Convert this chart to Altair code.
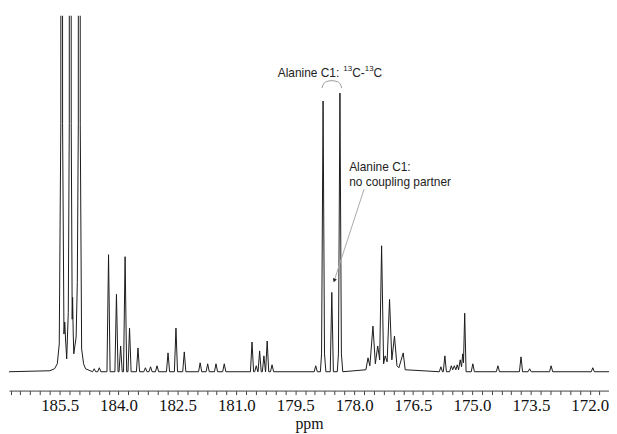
import altair as alt
import pandas as pd

# x-range of the spectrum (ppm, decreasing to the right)
ppm_left = 186.79
ppm_right = 171.51

# main multiplet near 185.2 ppm: (ppm, intensity); apexes run far off scale
cluster_185 = [
    (185.75, 1), (185.63, 3), (185.56, 8), (185.51, 28), (185.47, 250),
    (185.45, 3000), (185.425, 250), (185.39, 38), (185.37, 50), (185.35, 33),
    (185.32, 13), (185.28, 60), (185.255, 250), (185.23, 3000), (185.205, 250),
    (185.18, 53), (185.17, 75), (185.155, 40), (185.14, 18), (185.08, 35),
    (185.05, 90), (185.025, 250), (185.00, 3000), (184.975, 250), (184.94, 23),
    (184.89, 8), (184.84, 3),
]

# Alanine C1 13C-13C doublet
cluster_178 = [
    (178.86, 0), (178.83, 18), (178.791, 273), (178.755, 18), (178.72, 0),
    (178.43, 0), (178.40, 18), (178.362, 281), (178.325, 18), (178.29, 0),
]

# group between 177.7 and 176.7 ppm
cluster_177 = [
    (177.70, 2), (177.647, 14), (177.60, 6), (177.521, 46), (177.46, 8),
    (177.40, 26), (177.35, 12), (177.301, 127), (177.25, 8), (177.21, 16),
    (177.16, 10), (177.099, 73), (177.04, 12), (176.973, 36), (176.91, 6),
    (176.86, 4), (176.751, 19), (176.70, 2),
]

# group near 175.3 ppm
cluster_175 = [
    (175.57, 0), (175.526, 6), (175.49, 2), (175.45, 6), (175.41, 2),
    (175.375, 7), (175.34, 2), (175.299, 12), (175.265, 5), (175.236, 18),
    (175.215, 9), (175.185, 59), (175.15, 0),
]

# isolated lines
spike_ppm = [184.62, 184.49, 184.255, 184.053, 183.947, 183.833, 183.72,
             183.505, 183.316, 183.185, 183.02, 182.74, 182.538, 182.326,
             181.922, 181.73, 181.518, 181.308, 180.601, 180.493, 180.407,
             180.298, 180.215, 180.091, 178.978, 178.569, 175.791, 175.69,
             174.978, 174.339, 173.751, 173.531, 172.984, 171.923]
spike_height = [3, 4, 118, 78, 26, 116, 44,
                24, 4, 5, 6, 19, 44, 20,
                9, 8, 8, 8, 30, 6, 21,
                16, 31, 7, 6, 80, 5, 16,
                8, 6, 15, 3, 6, 4]

tick_values = [round(171.75 + 0.25 * i, 2) for i in range(61)]

# annotations
top_label_pos = (179.945, 301)
top_label_parts = ["Alanine C1: ", "13", "C-", "13", "C"]
label_mid = [
    {"ppm": 178.127, "intensity": 206, "text": "Alanine C1:"},
    {"ppm": 178.127, "intensity": 191, "text": "no coupling partner"},
]
bracket_ppm = [178.821, 178.783, 178.708, 178.569, 178.43, 178.354, 178.316]
bracket_int = [286, 290, 292.5, 293.5, 292.5, 290, 286]
arrow_ppm = [177.748, 178.506]
arrow_int = [184, 92]

FOOT = 0.04
rows = [(ppm_left, 0), (ppm_right, 0)]
rows += cluster_185 + cluster_178 + cluster_177 + cluster_175
for p, h in zip(spike_ppm, spike_height):
    rows += [(p + FOOT, 0), (p, h), (p - FOOT, 0)]
spec = pd.DataFrame(rows, columns=["ppm", "intensity"]).sort_values("ppm", ascending=False)

xscale = alt.Scale(domain=[ppm_right, ppm_left], reverse=True, nice=False, zero=False)
yscale = alt.Scale(domain=[-19, 359], nice=False, zero=False)

label_expr = ("abs((185.5 - datum.value) / 1.5 - round((185.5 - datum.value) / 1.5)) < 0.01"
              " ? format(datum.value, '.1f') : ''")

xaxis = alt.Axis(values=tick_values, tickCount=200, labelExpr=label_expr, title="ppm",
                 labelFont="Liberation Serif", labelFontSize=17, labelColor="#111",
                 labelPadding=3, labelOverlap=False, labelFlush=False,
                 titleFont="Liberation Serif", titleFontSize=16, titleFontWeight="normal",
                 titleColor="#111", titlePadding=2,
                 tickSize=4, tickColor="#444", domainColor="#444", grid=False)

line = alt.Chart(spec).mark_line(color="#1a1a1a", strokeWidth=1, clip=True).encode(
    x=alt.X("ppm:Q", scale=xscale, axis=xaxis),
    y=alt.Y("intensity:Q", scale=yscale, axis=None),
    order=alt.Order("ppm:Q", sort="descending"),
)

bracket = alt.Chart(pd.DataFrame({"ppm": bracket_ppm, "intensity": bracket_int})).mark_line(
    color="#999", strokeWidth=1, interpolate="monotone").encode(
    x=alt.X("ppm:Q", scale=xscale), y=alt.Y("intensity:Q", scale=yscale))

arrow = alt.Chart(pd.DataFrame({"ppm": arrow_ppm, "intensity": arrow_int})).mark_line(
    color="#aaa", strokeWidth=1).encode(
    x=alt.X("ppm:Q", scale=xscale), y=alt.Y("intensity:Q", scale=yscale))

head = alt.Chart(pd.DataFrame({"ppm": [arrow_ppm[1]], "intensity": [arrow_int[1]]})).mark_point(
    shape="triangle-down", angle=18, size=18, filled=True, color="#222", opacity=1).encode(
    x=alt.X("ppm:Q", scale=xscale), y=alt.Y("intensity:Q", scale=yscale))

# top label built from pieces so the mass numbers are real superscripts
top_df = pd.DataFrame({"ppm": [top_label_pos[0]], "intensity": [top_label_pos[1]]})
piece_style = [  # (fontSize, dx, dy)
    (12, 0, 0), (8, 66, -4), (12, 75, 0), (8, 87.7, -4), (12, 96.6, 0),
]
top_layers = []
for txt, (fs, dx, dy) in zip(top_label_parts, piece_style):
    top_layers.append(
        alt.Chart(top_df).mark_text(
            align="left", baseline="middle", font="Liberation Sans", fontSize=fs,
            dx=dx, dy=dy, color="#222", text=txt).encode(
            x=alt.X("ppm:Q", scale=xscale), y=alt.Y("intensity:Q", scale=yscale))
    )

txt_mid = alt.Chart(pd.DataFrame(label_mid)).mark_text(
    align="left", baseline="middle", font="Liberation Sans", fontSize=12, color="#222").encode(
    x=alt.X("ppm:Q", scale=xscale), y=alt.Y("intensity:Q", scale=yscale), text="text:N")

chart = alt.layer(line, bracket, arrow, head, *top_layers, txt_mid).properties(
    width=605, height=378,
    padding={"left": 1, "top": 6, "right": 0, "bottom": 0},
    background="white",
).configure_view(stroke=None)

chart.save("out.html", embed_options={"renderer": "svg", "actions": False})
